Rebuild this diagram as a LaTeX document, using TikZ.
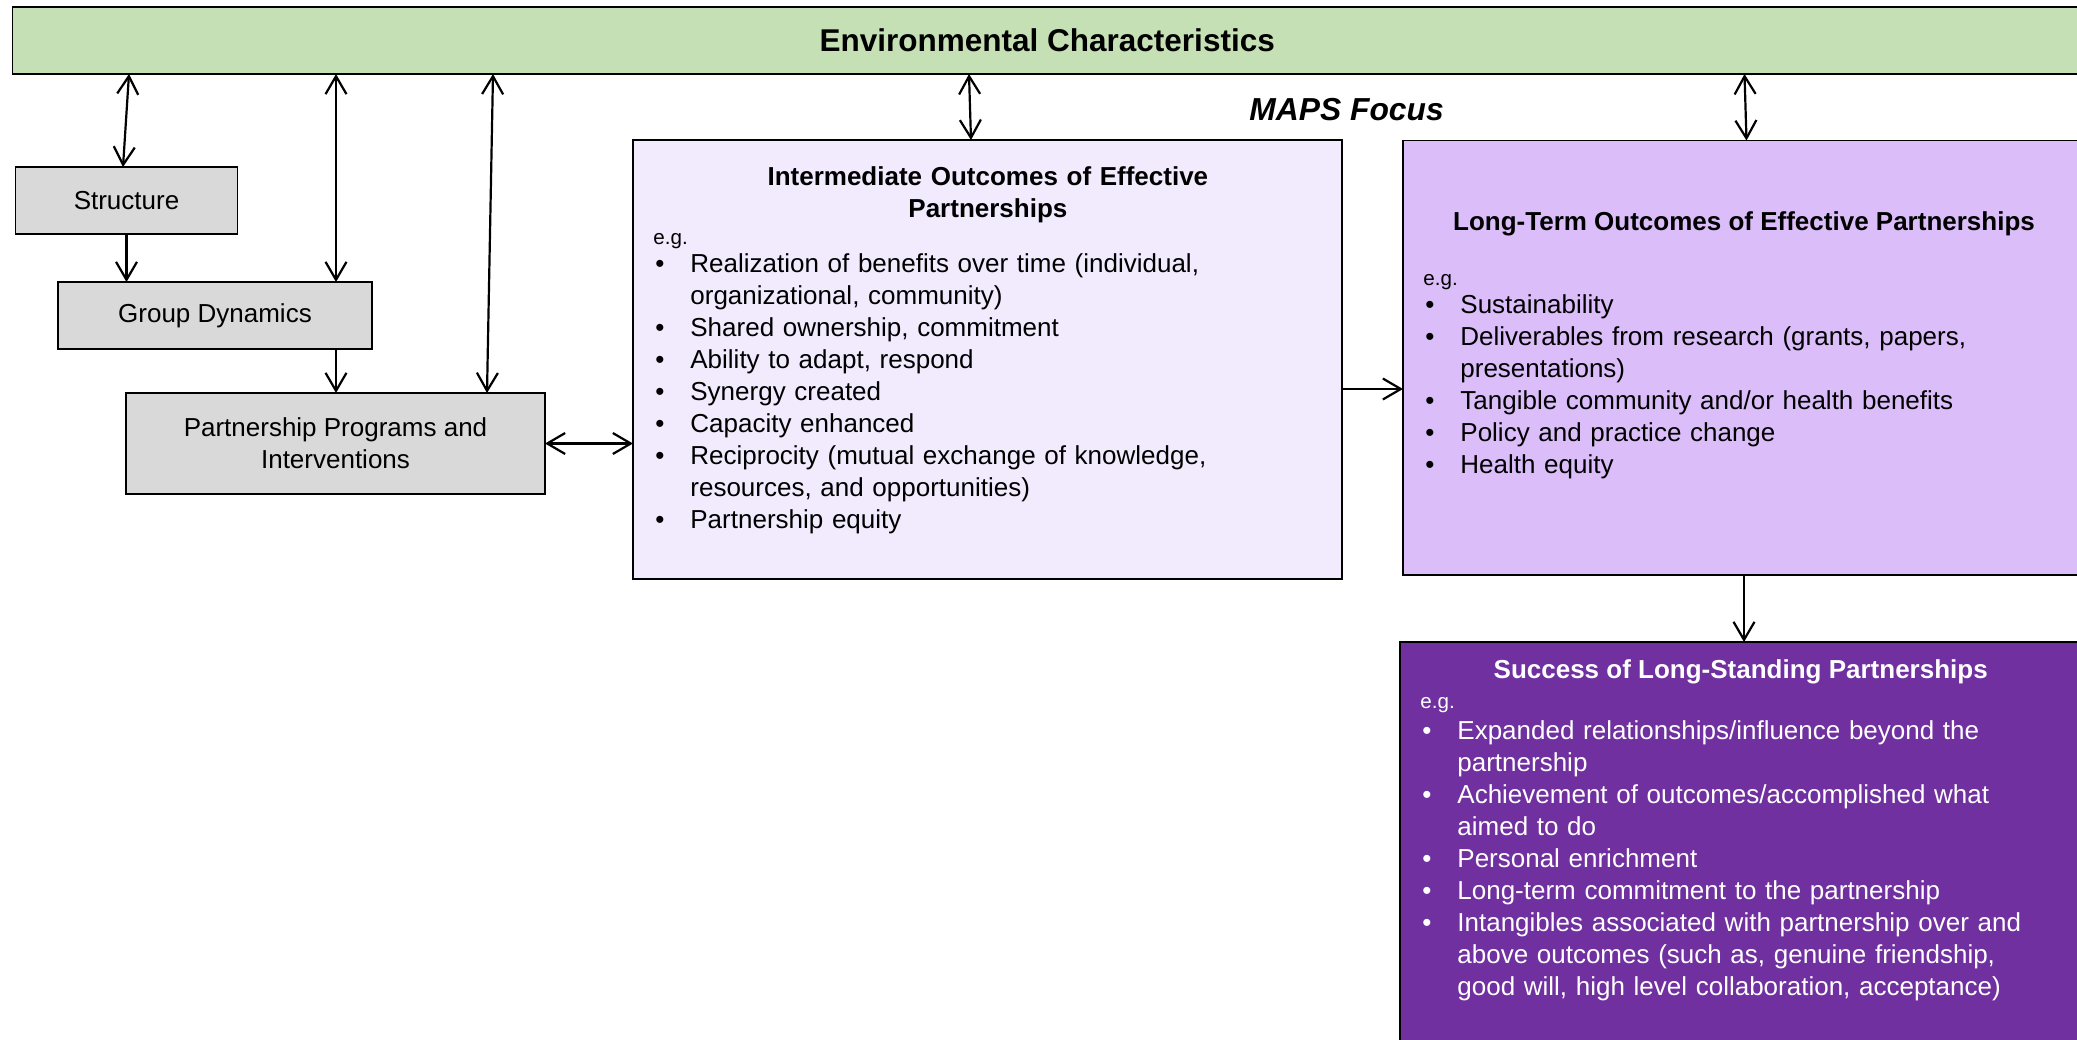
\documentclass[tikz,border=0pt]{standalone}
\usepackage{fontspec}
\setmainfont{Liberation Sans}
\usetikzlibrary{arrows.meta,calc}
\definecolor{envgreen}{HTML}{C5E0B4}
\definecolor{boxgray}{HTML}{D9D9D9}
\definecolor{interfill}{HTML}{F2EAFD}
\definecolor{longfill}{HTML}{DBBDFA}
\definecolor{succfill}{HTML}{7030A0}
\newcommand{\bul}[1]{\hangindent=18.5pt\hangafter=1\noindent\makebox[18.5pt][l]{\hspace{1pt}\textbullet}#1\par}
\begin{document}
\begin{tikzpicture}[x=0.5pt,y=-0.5pt,
  font=\fontsize{13pt}{16pt}\selectfont,
  box/.style={draw=black, line width=0.9pt, inner sep=0pt, outer sep=0pt},
  graybox/.style={box, fill=boxgray, align=center},
  conn/.style={line width=1.1pt, -{Straight Barb[length=9pt,width=10.5pt]}},
  dconn/.style={line width=1.1pt, {Straight Barb[length=9pt,width=10.5pt]}-{Straight Barb[length=9pt,width=10.5pt]}},
  ttl/.style={font=\fontsize{13pt}{16pt}\selectfont\bfseries, inner sep=0pt},
  eg/.style={font=\fontsize{10.3pt}{12pt}\selectfont, inner sep=0pt, anchor=base west},
  items/.style={inner sep=0pt, anchor=base west, align=left}
]
\useasboundingbox (0,0) rectangle (2077,1039);
\begin{scope}
\clip (0,0) rectangle (2077,1039);
% boxes
\node[box, fill=envgreen, minimum width=1034.75pt, minimum height=33.35pt,
  font=\fontsize{15.75pt}{18pt}\selectfont\bfseries] (env) at (1047.25,40.65) {Environmental Characteristics};
\node[graybox, minimum width=111pt, minimum height=33.5pt] (struct) at (126.5,200.5) {Structure};
\node[graybox, minimum width=157pt, minimum height=33.5pt] (gd) at (215,315.5) {Group Dynamics};
\node[graybox, minimum width=209.5pt, minimum height=50.5pt] (ppi) at (335.5,443.5) {Partnership Programs and\\Interventions};
\node[box, fill=interfill, minimum width=354.5pt, minimum height=219.5pt] (inter) at (987.5,359.5) {};
\node[box, fill=longfill, minimum width=343.5pt, minimum height=217.25pt] (long) at (1746.5,357.75) {};
\node[box, fill=succfill, minimum width=345pt, minimum height=204pt] (succ) at (1745,846) {};
\node[font=\fontsize{15.9pt}{18pt}\selectfont\bfseries\itshape, anchor=base west, inner sep=0pt] (maps) at (1249,120.7) {MAPS Focus};
% intermediate text
\node[ttl, anchor=base west, text width=334.5pt, align=center] (intitle) at (653,185) {Intermediate Outcomes of Effective\\Partnerships};
\node[eg] (ineg) at (653,244) {e.g.};
\node[items, text width=334.5pt] (initems) at (653,272.7) {%
\bul{Realization of benefits over time (individual,\newline organizational, community)}%
\bul{Shared ownership, commitment}%
\bul{Ability to adapt, respond}%
\bul{Synergy created}%
\bul{Capacity enhanced}%
\bul{Reciprocity (mutual exchange of knowledge,\newline resources, and opportunities)}%
\bul{Partnership equity}};
% long-term text
\node[ttl, anchor=base] (lttl) at (1744,230) {Long-Term Outcomes of Effective Partnerships};
\node[eg] (leg) at (1423,285) {e.g.};
\node[items, text width=321pt] (litems) at (1423,313.3) {%
\bul{Sustainability}%
\bul{Deliverables from research (grants, papers,\newline presentations)}%
\bul{Tangible community and/or health benefits}%
\bul{Policy and practice change}%
\bul{Health equity}};
% success text
\node[ttl, anchor=base, text=white] (sttl) at (1740.7,678.3) {Success of Long-Standing Partnerships};
\node[eg, text=white] (seg) at (1420,708.3) {e.g.};
\node[items, text width=321pt, text=white] (sitems) at (1420,739) {%
\bul{Expanded relationships/influence beyond the\newline partnership}%
\bul{Achievement of outcomes/accomplished what\newline aimed to do}%
\bul{Personal enrichment}%
\bul{Long-term commitment to the partnership}%
\bul{Intangibles associated with partnership over and\newline above outcomes (such as, genuine friendship,\newline good will, high level collaboration, acceptance)}};
% connectors
\draw[dconn] ($(env.south west)+(116.5,0)$) -- ($(struct.north west)+(107.5,0)$);
\draw[conn] (struct.south) -- (struct.south |- gd.north);
\draw[dconn] ($(env.south west)+(323.5,0)$) -- ($(gd.north west)+(278,0)$);
\draw[conn] ($(gd.south west)+(278,0)$) -- ($(ppi.north west)+(210,0)$);
\draw[dconn] ($(env.south west)+(480.5,0)$) -- ($(ppi.north west)+(361,0)$);
\draw[dconn] (ppi.east) -- (ppi.east -| inter.west);
\draw[dconn] ($(env.south west)+(956.5,0)$) -- ($(inter.north west)+(338,0)$);
\draw[conn] ($(inter.north east)+(0,249)$) -- ($(long.north west)+(0,248.5)$);
\draw[dconn] ($(env.south west)+(1732,0)$) -- ($(long.north west)+(343.5,0)$);
\draw[conn] ($(long.south west)+(341,0)$) -- ($(succ.north west)+(344,0)$);
\end{scope}
\end{tikzpicture}
\end{document}
